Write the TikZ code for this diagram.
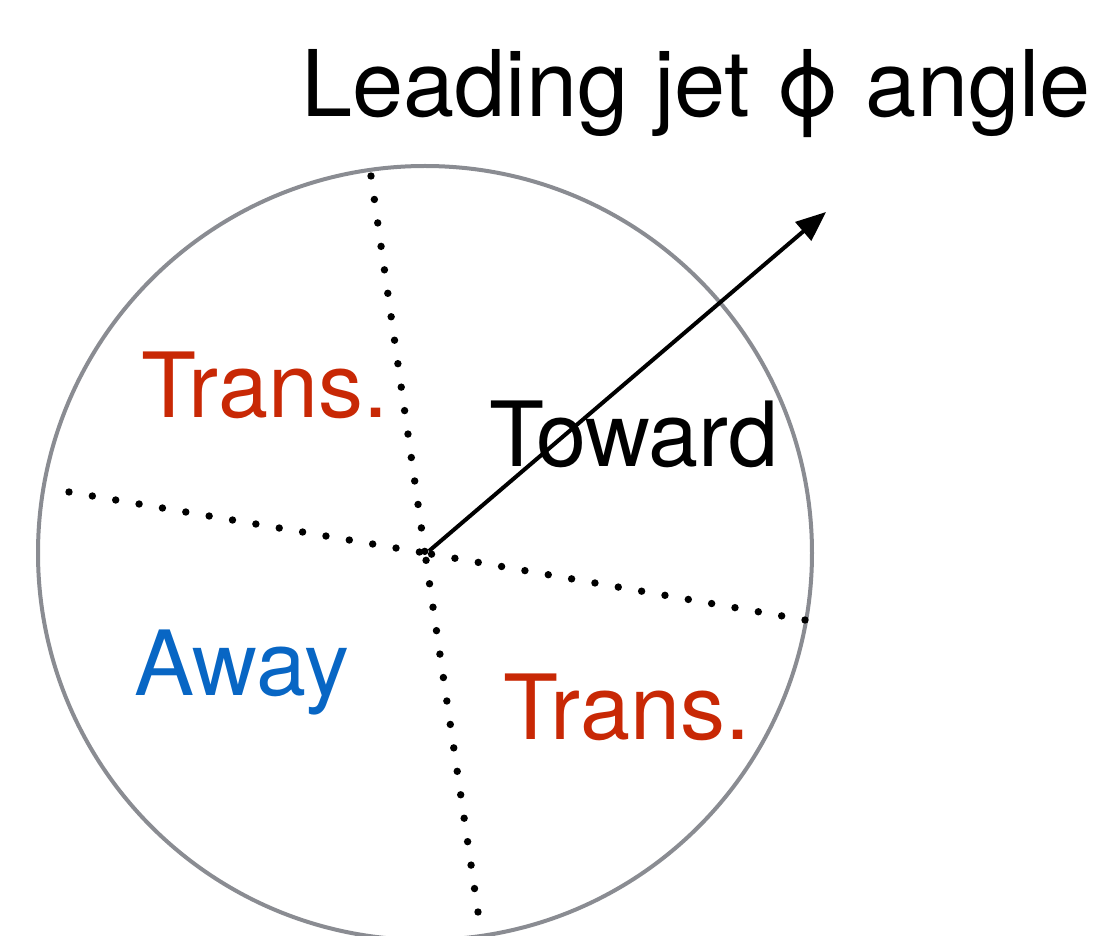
\documentclass[tikz,border=0pt]{standalone}
\usepackage{fontspec}
\setmainfont{TeX Gyre Heros}
\usepackage{tikz}
\usetikzlibrary{arrows.meta}
\definecolor{ringgray}{RGB}{138,140,146}
\definecolor{transred}{RGB}{200,40,5}
\definecolor{awayblue}{RGB}{8,102,196}
\tikzset{
  ring/.style={draw=ringgray, line width=2pt},
  divider/.style={line width=3.7pt, line cap=round, dash pattern=on 0pt off 11.85pt},
  jetarrow/.style={-{Triangle[length=15pt,width=12pt]}, line width=2pt},
  region/.style={font=\fontsize{45}{54}\selectfont, anchor=base, inner sep=0pt}
}
\begin{document}
\begin{tikzpicture}[x=0.5pt, y=-0.5pt]
  \useasboundingbox (0,0) rectangle (1100,936);
  \coordinate (o) at (425,553);
  \coordinate (top) at (371,176);
  \coordinate (left) at (69,492);
  \coordinate (right) at (805,620);
  \coordinate (bottom) at (478,912);
  \coordinate (jet) at (826,212);

  \draw[ring] (o) circle[radius=193.5pt];

  % sector borders, dotted from rim to centre
  \draw[divider] (top) -- (o);
  \draw[divider] (left) -- (o);
  \draw[divider] (right) -- (o);
  \draw[divider] (bottom) -- (o);

  \node[region, font=\fontsize{46}{55}\selectfont] (title) at (696,117) {Leading jet ϕ angle};
  \node[region, text=transred] (transup) at (265,418) {Trans.};
  \node[region] (toward) at (634,467) {Toward};
  \node[region, text=awayblue] (away) at (242,696) {Away};
  \node[region, text=transred] (translow) at (627,740) {Trans.};

  \draw[jetarrow] (o) ++(4,-2) -- (jet);
\end{tikzpicture}
\end{document}
